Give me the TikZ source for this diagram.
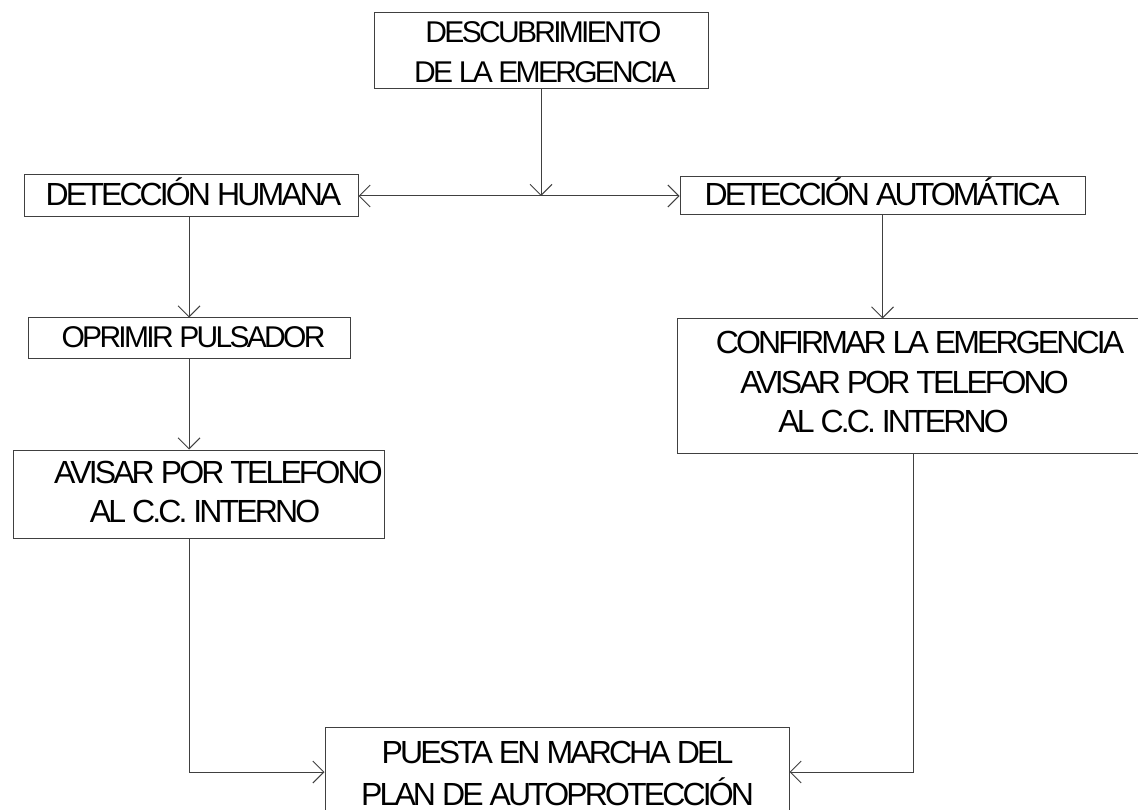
\documentclass[tikz,border=0pt]{standalone}
\usepackage{fontspec}
\newfontfamily\dfont[LetterSpace=-9]{Liberation Sans}
\usetikzlibrary{arrows.meta}
\begin{document}
\begin{tikzpicture}[x=1pt,y=-1pt,
  box/.style={draw=black!75,line width=1pt,rectangle,inner sep=0pt,fill=none},
  txt/.style={anchor=base,inner sep=0pt,font=\dfont\fontsize{32}{39}\selectfont},
  txts/.style={anchor=base,inner sep=0pt,font=\dfont\fontsize{30}{38}\selectfont},
  arr/.style={draw=black!75,line width=1pt,-{Straight Barb[length=11pt,width=22pt]}},
  ln/.style={draw=black!75,line width=1pt}]
\useasboundingbox (0,0) rectangle (1138,810);
\clip (0,0) rectangle (1138,810);
\fill[white] (0,0) rectangle (1138,810);
% boxes
\node[box,minimum width=334,minimum height=76] (top) at (541,51) {};
\node[box,minimum width=334,minimum height=42] (hum) at (191,196) {};
\node[box,minimum width=405,minimum height=38] (aut) at (882.5,196) {};
\node[box,minimum width=322,minimum height=40] (opr) at (189,338) {};
\node[box,minimum width=371,minimum height=88] (av) at (198.5,494) {};
\node[box,minimum width=473,minimum height=134] (conf) at (913.5,386) {};
\node[box,minimum width=464,minimum height=90] (pue) at (557,772) {};
% texts
\node[txts] (t1) at (543.5,43) {DESCUBRIMIENTO};
\node[txts] (t2) at (545,83) {DE LA EMERGENCIA};
\node[txt] (t3) at (193.5,206) {DETECCIÓN HUMANA};
\node[txt] (t4) at (882,206) {DETECCIÓN AUTOMÁTICA};
\node[txts] (t5) at (193.5,348) {OPRIMIR PULSADOR};
\node[txt] (t6) at (218.5,483) {AVISAR POR TELEFONO};
\node[txt] (t7) at (205,522) {AL C.C. INTERNO};
\node[txt] (t8) at (920,353) {CONFIRMAR LA EMERGENCIA};
\node[txt] (t9) at (904.5,393) {AVISAR POR TELEFONO};
\node[txt] (t10) at (893.5,432) {AL C.C. INTERNO};
\node[txt] (t11) at (557.5,763) {PUESTA EN MARCHA DEL};
\node[txt] (t12) at (557.5,805) {PLAN DE AUTOPROTECCIÓN};
% connectors
\coordinate (j) at (541,196);
\draw[arr] (top.south) -- (j);
\draw[arr] (j) -- (hum.east);
\draw[arr] (j) -- (aut.west);
\draw[arr] (opr.north |- hum.south) -- (opr.north);
\draw[arr] (opr.south) -- (opr.south |- av.north);
\draw[arr] (aut.south) -- (aut.south |- conf.north);
\draw[arr] (opr.south |- av.south) |- (pue.west);
\draw[arr] (conf.south) |- (pue.east);
\end{tikzpicture}
\end{document}
